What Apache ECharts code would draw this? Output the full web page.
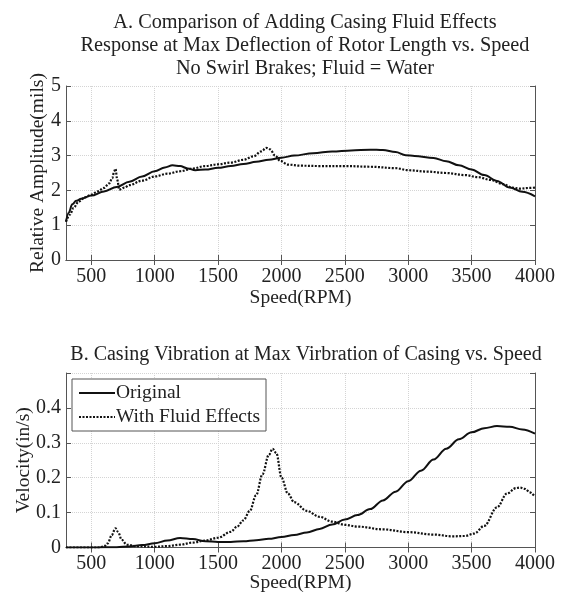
<!DOCTYPE html>
<html><head><meta charset="utf-8">
<script src="https://cdn.jsdelivr.net/npm/echarts@6/dist/echarts.min.js"></script>
<style>html,body{margin:0;padding:0;background:#fff}#c{width:562px;height:592px}</style>
</head><body><div id="c"></div>
<script>
// ---- data ----
const titleA = 'A. Comparison of Adding Casing Fluid Effects\nResponse at Max Deflection of Rotor Length vs. Speed\nNo Swirl Brakes; Fluid = Water';
const titleB = 'B. Casing Vibration at Max Virbration of Casing vs. Speed';
const xTicks = [500, 1000, 1500, 2000, 2500, 3000, 3500, 4000];
const seriesNames = ['Original', 'With Fluid Effects'];

const speedA_orig = [300,320,350,380,420,500,600,700,800,900,1000,1080,1140,1200,1260,1320,1400,1500,1600,1700,1800,1900,2000,2100,2250,2400,2550,2700,2800,2900,2980,3050,3200,3300,3400,3500,3600,3700,3800,3900,4000];
const ampA_orig = [1.1,1.35,1.6,1.7,1.76,1.85,1.97,2.1,2.25,2.4,2.55,2.66,2.72,2.7,2.63,2.58,2.6,2.65,2.7,2.76,2.82,2.88,2.94,3.0,3.07,3.12,3.15,3.17,3.16,3.1,3.01,2.99,2.93,2.84,2.72,2.6,2.44,2.27,2.08,1.96,1.83];

const speedA_fluid = [300,330,360,400,450,500,550,600,640,665,680,690,705,720,760,800,900,1000,1100,1200,1300,1400,1500,1600,1700,1780,1840,1880,1910,1950,1990,2050,2150,2300,2500,2700,2900,3000,3150,3300,3450,3550,3650,3750,3820,3880,3950,4000];
const ampA_fluid = [1.1,1.3,1.5,1.68,1.8,1.88,1.97,2.07,2.2,2.35,2.55,2.62,2.3,2.02,2.08,2.15,2.28,2.4,2.48,2.55,2.63,2.7,2.75,2.8,2.88,2.98,3.12,3.22,3.18,3.0,2.85,2.74,2.71,2.7,2.7,2.68,2.64,2.58,2.54,2.5,2.44,2.38,2.3,2.18,2.08,2.05,2.07,2.08];

const speedB_orig = [300,500,700,800,900,1000,1100,1200,1300,1400,1500,1600,1700,1800,1900,2000,2100,2200,2300,2400,2500,2600,2700,2800,2900,3000,3100,3200,3300,3400,3500,3600,3700,3800,3900,4000];
const velB_orig = [0.0,0.0,0.001,0.003,0.007,0.012,0.02,0.027,0.024,0.018,0.016,0.016,0.018,0.021,0.025,0.03,0.036,0.043,0.053,0.066,0.08,0.093,0.11,0.135,0.16,0.19,0.22,0.252,0.283,0.31,0.33,0.342,0.348,0.346,0.338,0.326];

const speedB_fluid = [300,550,600,630,660,690,710,740,780,850,1000,1100,1200,1300,1400,1500,1600,1650,1700,1750,1800,1850,1900,1930,1960,2000,2050,2100,2200,2300,2400,2500,2600,2800,3000,3200,3350,3450,3520,3600,3700,3780,3850,3880,3920,3960,4000];
const velB_fluid = [0,0,0.003,0.012,0.035,0.055,0.045,0.022,0.008,0.004,0.002,0.004,0.008,0.014,0.02,0.028,0.045,0.06,0.078,0.105,0.15,0.21,0.265,0.283,0.27,0.2,0.155,0.13,0.105,0.088,0.074,0.065,0.06,0.052,0.044,0.037,0.032,0.033,0.04,0.062,0.115,0.155,0.17,0.172,0.168,0.158,0.145];

// ---- chart ----
const FONT = 'Liberation Serif';
const zip = (xs, ys) => xs.map((x, i) => [x, ys[i]]);
const axisLineStyle = {show: true, lineStyle: {color: '#555', width: 1}};
const split = {show: true, lineStyle: {color: '#d4d4d4', type: 'dotted', width: 1}};
const lab = {fontFamily: FONT, fontSize: 20, color: '#222'};
const nameStyle = {fontFamily: FONT, fontSize: 19.5, color: '#222'};

function xAxes(gi, gap, margin) {
  return [{
    type: 'value', gridIndex: gi, min: 300, max: 4000, position: 'bottom',
    name: 'Speed(RPM)', nameLocation: 'middle', nameGap: gap, nameMoveOverlap: false,
    nameTextStyle: nameStyle,
    axisLine: axisLineStyle,
    axisTick: {show: true, inside: true, length: 5, customValues: xTicks, lineStyle: {color: '#555'}},
    axisLabel: Object.assign({customValues: xTicks, margin: margin, formatter: v => String(v)}, lab),
    splitLine: split
  }, {
    type: 'value', gridIndex: gi, min: 300, max: 4000, position: 'top',
    axisLine: axisLineStyle,
    axisTick: {show: true, inside: true, length: 5, customValues: xTicks, lineStyle: {color: '#555'}},
    axisLabel: {show: false, customValues: xTicks}, splitLine: {show: false}
  }];
}
function yAxes(gi, max, interval, name, gap, fmt) {
  return [{
    type: 'value', gridIndex: gi, min: 0, max: max, interval: interval, position: 'left',
    name: name, nameLocation: 'middle', nameGap: gap, nameMoveOverlap: false,
    nameTextStyle: nameStyle,
    axisLine: axisLineStyle,
    axisTick: {show: true, inside: true, length: 5, lineStyle: {color: '#555'}},
    axisLabel: Object.assign({margin: 5, formatter: fmt}, lab),
    splitLine: split
  }, {
    type: 'value', gridIndex: gi, min: 0, max: max, interval: interval, position: 'right',
    axisLine: axisLineStyle,
    axisTick: {show: true, inside: true, length: 5, lineStyle: {color: '#555'}},
    axisLabel: {show: false}, splitLine: {show: false}
  }];
}
function line(name, data, xi, yi, dotted) {
  return {
    name: name, type: 'line', xAxisIndex: xi, yAxisIndex: yi, data: data,
    showSymbol: false, symbol: 'none', smooth: 0.35, smoothMonotone: 'x',
    lineStyle: {color: '#111', width: dotted ? 2.2 : 2, type: dotted ? [2, 1.5] : 'solid'},
    itemStyle: {color: '#111'}, animation: false
  };
}

const chart = echarts.init(document.getElementById('c'), null, {renderer: 'canvas'});
chart.setOption({
  backgroundColor: '#fff',
  animation: false,
  title: [
    {text: titleA, left: 300, textAlign: 'center', top: 6,
     textStyle: {fontFamily: FONT, fontSize: 20.3, fontWeight: 'normal', color: '#222', lineHeight: 23}},
    {text: titleB, left: 301, textAlign: 'center', top: 340,
     textStyle: {fontFamily: FONT, fontSize: 20, fontWeight: 'normal', color: '#222'}}
  ],
  legend: {
    left: 72, top: 379, orient: 'vertical', itemWidth: 36, itemHeight: 14, itemGap: 4,
    padding: [4, 6, 4, 6], borderColor: '#555', borderWidth: 1, backgroundColor: '#fff',
    itemStyle: {opacity: 0},
    textStyle: {fontFamily: FONT, fontSize: 19.5, color: '#222', padding: [0, 0, 0, -4]},
    data: seriesNames
  },
  grid: [
    {left: 66, right: 27, top: 86, height: 174, outerBoundsMode: 'none'},
    {left: 66, right: 27, top: 373, height: 174.5, outerBoundsMode: 'none'}
  ],
  xAxis: [...xAxes(0, 28, 7), ...xAxes(1, 25, 6)],
  yAxis: [...yAxes(0, 5, 1, 'Relative Amplitude(mils)', 18, v => String(v)),
          ...yAxes(1, 0.5, 0.1, 'Velocity(in/s)', 32, v => (v >= 0.5 ? '' : String(+v.toFixed(1))))],
  series: [
    line(seriesNames[0], zip(speedA_orig, ampA_orig), 0, 0, false),
    line(seriesNames[1], zip(speedA_fluid, ampA_fluid), 0, 0, true),
    line(seriesNames[0], zip(speedB_orig, velB_orig), 2, 2, false),
    line(seriesNames[1], zip(speedB_fluid, velB_fluid), 2, 2, true)
  ]
});
</script></body></html>
